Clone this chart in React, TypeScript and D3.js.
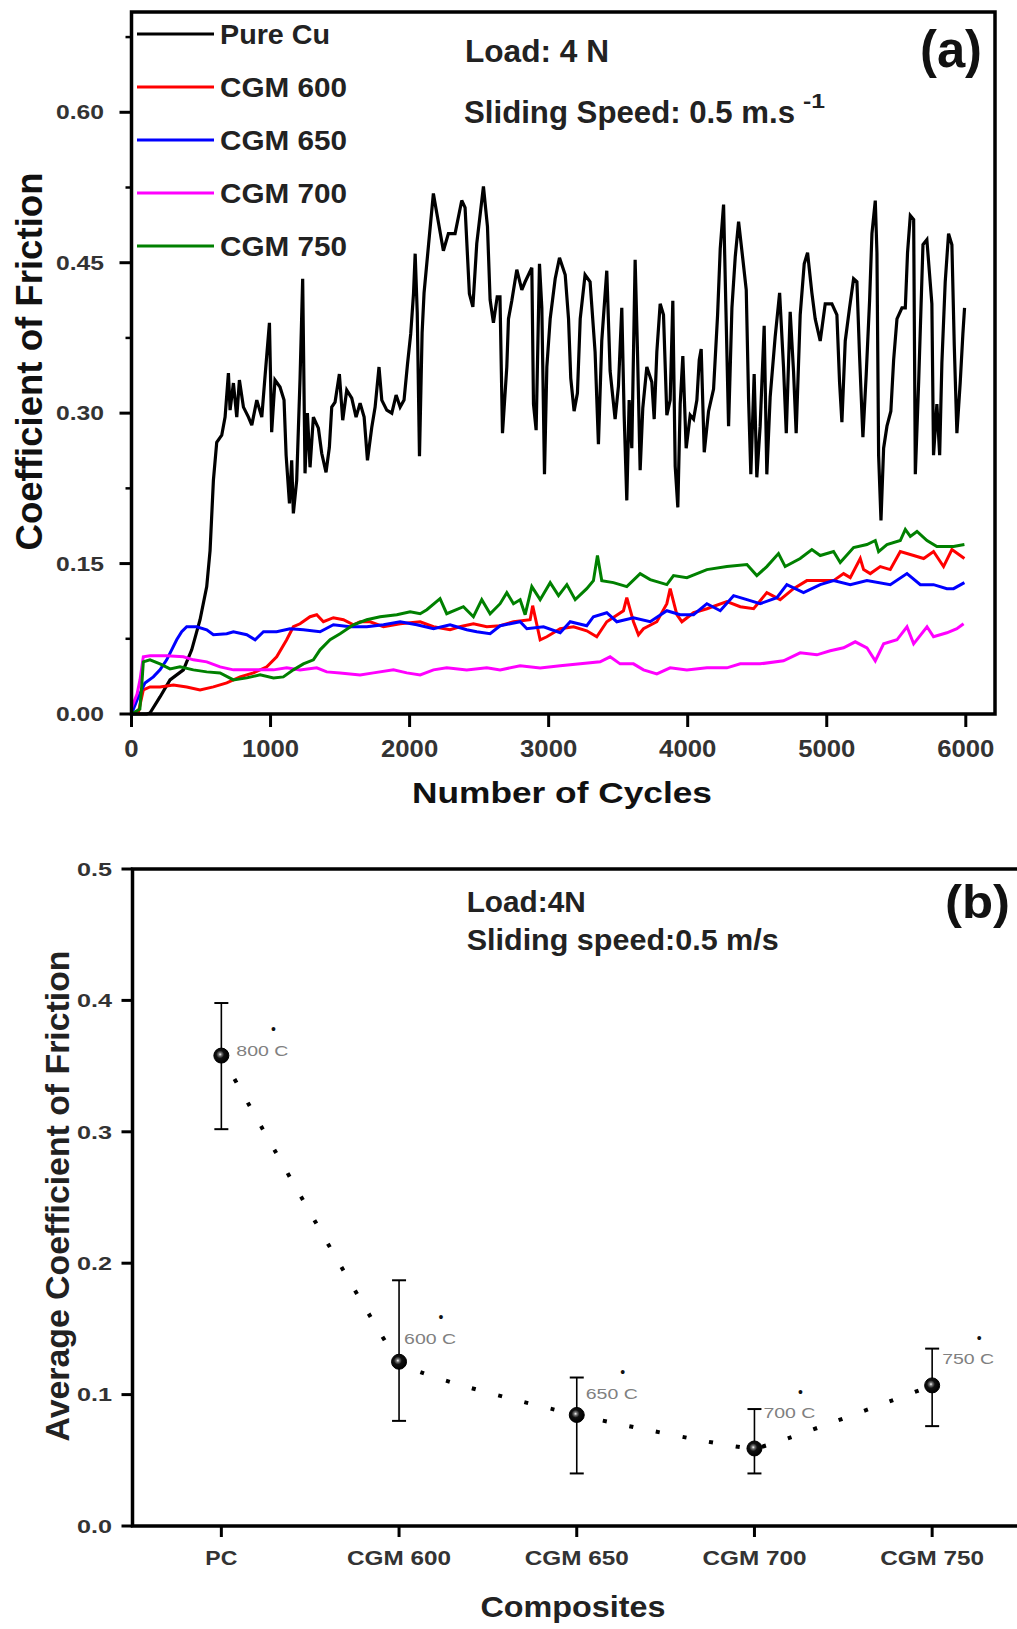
import React from 'react';
import * as d3 from 'd3';

const FONT = '"Liberation Sans", Arial, Helvetica, sans-serif';

// ---------- Panel (a): coefficient of friction vs number of cycles ----------
const pureCu: [number, number][] = [
  [0, 0], [109, 0], [133, 0.001], [205, 0.017], [277, 0.034], [373, 0.044], [433, 0.064], [493, 0.094],
  [541, 0.127], [565, 0.163], [589, 0.233], [613, 0.271], [649, 0.278], [673, 0.296], [697, 0.34], [709, 0.303],
  [733, 0.33], [757, 0.296], [776, 0.333], [805, 0.306], [841, 0.296], [865, 0.288], [901, 0.313], [937, 0.296],
  [961, 0.338], [992, 0.39], [1008, 0.281], [1032, 0.333], [1068, 0.326], [1097, 0.313], [1112, 0.258], [1136, 0.21],
  [1152, 0.253], [1164, 0.2], [1188, 0.233], [1212, 0.334], [1231, 0.434], [1248, 0.24], [1265, 0.3], [1284, 0.246],
  [1308, 0.296], [1344, 0.285], [1368, 0.26], [1399, 0.241], [1423, 0.266], [1440, 0.306], [1464, 0.311], [1495, 0.339],
  [1519, 0.293], [1548, 0.323], [1584, 0.315], [1615, 0.296], [1644, 0.31], [1673, 0.296], [1697, 0.253], [1728, 0.286],
  [1752, 0.306], [1780, 0.346], [1800, 0.313], [1836, 0.303], [1872, 0.3], [1903, 0.318], [1932, 0.306], [1960, 0.313],
  [1985, 0.349], [2008, 0.379], [2028, 0.419], [2040, 0.459], [2055, 0.4], [2071, 0.257], [2090, 0.38], [2104, 0.42],
  [2135, 0.466], [2171, 0.519], [2196, 0.499], [2243, 0.462], [2279, 0.479], [2327, 0.479], [2375, 0.512], [2399, 0.505],
  [2430, 0.419], [2455, 0.406], [2483, 0.469], [2531, 0.526], [2560, 0.486], [2579, 0.413], [2603, 0.39], [2630, 0.416],
  [2650, 0.416], [2668, 0.28], [2699, 0.346], [2711, 0.394], [2735, 0.412], [2771, 0.443], [2807, 0.423], [2831, 0.431],
  [2879, 0.445], [2891, 0.309], [2910, 0.283], [2934, 0.449], [2951, 0.405], [2970, 0.239], [2987, 0.346], [3011, 0.394],
  [3047, 0.434], [3078, 0.455], [3119, 0.438], [3143, 0.394], [3159, 0.335], [3183, 0.302], [3207, 0.32], [3227, 0.394],
  [3262, 0.438], [3298, 0.431], [3334, 0.361], [3358, 0.269], [3382, 0.372], [3418, 0.442], [3442, 0.342], [3478, 0.294],
  [3502, 0.327], [3526, 0.405], [3543, 0.298], [3562, 0.213], [3579, 0.313], [3598, 0.265], [3622, 0.453], [3639, 0.361],
  [3658, 0.243], [3677, 0.305], [3706, 0.346], [3742, 0.331], [3759, 0.294], [3778, 0.361], [3802, 0.409], [3826, 0.398],
  [3850, 0.298], [3874, 0.313], [3893, 0.412], [3910, 0.247], [3929, 0.206], [3946, 0.309], [3965, 0.357], [3989, 0.265],
  [4018, 0.298], [4042, 0.294], [4066, 0.313], [4083, 0.353], [4097, 0.364], [4119, 0.261], [4150, 0.302], [4186, 0.324],
  [4215, 0.398], [4234, 0.464], [4258, 0.508], [4274, 0.409], [4294, 0.287], [4318, 0.405], [4342, 0.456], [4366, 0.491],
  [4397, 0.453], [4421, 0.423], [4438, 0.313], [4454, 0.239], [4478, 0.339], [4497, 0.236], [4521, 0.287], [4550, 0.387],
  [4569, 0.239], [4593, 0.316], [4629, 0.376], [4661, 0.42], [4689, 0.346], [4709, 0.28], [4737, 0.401], [4761, 0.342],
  [4780, 0.28], [4809, 0.398], [4838, 0.449], [4862, 0.46], [4893, 0.42], [4917, 0.394], [4953, 0.372], [4989, 0.409],
  [5037, 0.409], [5073, 0.398], [5092, 0.331], [5109, 0.291], [5133, 0.372], [5164, 0.405], [5193, 0.434], [5217, 0.431],
  [5236, 0.357], [5260, 0.276], [5284, 0.339], [5308, 0.412], [5325, 0.479], [5349, 0.512], [5361, 0.46], [5373, 0.258],
  [5390, 0.193], [5409, 0.265], [5433, 0.287], [5461, 0.302], [5481, 0.353], [5505, 0.394], [5541, 0.405], [5565, 0.405],
  [5581, 0.46], [5601, 0.497], [5625, 0.493], [5637, 0.239], [5661, 0.331], [5692, 0.468], [5720, 0.473], [5756, 0.409],
  [5768, 0.258], [5792, 0.309], [5812, 0.258], [5828, 0.35], [5852, 0.431], [5876, 0.479], [5900, 0.468], [5917, 0.368],
  [5936, 0.28], [5960, 0.331], [5979, 0.379], [5991, 0.405],
];

const cgm600: [number, number][] = [
  [0, 0], [50, 0.002], [85, 0.024], [133, 0.027], [205, 0.027], [301, 0.029], [397, 0.027], [493, 0.024], [589, 0.027],
  [685, 0.031], [781, 0.037], [877, 0.041], [973, 0.047], [1044, 0.057], [1116, 0.074], [1164, 0.087], [1212, 0.09],
  [1284, 0.097], [1332, 0.099], [1380, 0.092], [1452, 0.096], [1524, 0.094], [1596, 0.089], [1644, 0.092], [1716, 0.092],
  [1812, 0.087], [1932, 0.09], [2076, 0.092], [2172, 0.087], [2291, 0.084], [2360, 0.087], [2459, 0.09], [2555, 0.087],
  [2651, 0.088], [2747, 0.092], [2867, 0.094], [2885, 0.108], [2939, 0.074], [2987, 0.077], [3083, 0.085], [3179, 0.087],
  [3274, 0.083], [3346, 0.077], [3418, 0.092], [3538, 0.103], [3562, 0.116], [3610, 0.092], [3646, 0.079], [3682, 0.085],
  [3778, 0.092], [3850, 0.11], [3874, 0.125], [3922, 0.099], [3958, 0.092], [4042, 0.101], [4138, 0.105], [4282, 0.112],
  [4378, 0.107], [4474, 0.105], [4569, 0.121], [4665, 0.114], [4761, 0.125], [4857, 0.133], [4953, 0.133], [5049, 0.133],
  [5121, 0.14], [5169, 0.136], [5241, 0.155], [5265, 0.144], [5313, 0.14], [5385, 0.147], [5457, 0.144], [5529, 0.162],
  [5625, 0.158], [5697, 0.155], [5768, 0.162], [5840, 0.147], [5900, 0.164], [5990, 0.155],
];

const cgm650: [number, number][] = [
  [0, 0], [40, 0.014], [97, 0.031], [157, 0.037], [205, 0.044], [253, 0.054], [289, 0.064], [325, 0.074], [361, 0.082],
  [397, 0.087], [469, 0.087], [541, 0.084], [589, 0.079], [685, 0.08], [733, 0.082], [829, 0.079], [889, 0.074],
  [949, 0.082], [1044, 0.082], [1140, 0.085], [1236, 0.084], [1356, 0.082], [1452, 0.089], [1572, 0.087], [1692, 0.087],
  [1812, 0.089], [1932, 0.092], [2052, 0.089], [2172, 0.085], [2291, 0.089], [2411, 0.084], [2483, 0.082], [2579, 0.08],
  [2651, 0.088], [2795, 0.092], [2843, 0.085], [2963, 0.087], [3083, 0.081], [3155, 0.092], [3274, 0.088], [3322, 0.097],
  [3418, 0.101], [3490, 0.092], [3610, 0.096], [3730, 0.092], [3850, 0.103], [3946, 0.099], [4042, 0.099], [4138, 0.11],
  [4234, 0.103], [4330, 0.118], [4426, 0.114], [4521, 0.11], [4641, 0.116], [4713, 0.129], [4833, 0.121], [4953, 0.129],
  [5049, 0.133], [5169, 0.129], [5289, 0.133], [5457, 0.129], [5577, 0.14], [5673, 0.129], [5768, 0.129], [5864, 0.125],
  [5912, 0.125], [5990, 0.131],
];

const cgm700: [number, number][] = [
  [0, 0.006], [40, 0.02], [61, 0.034], [85, 0.057], [133, 0.058], [253, 0.058], [373, 0.057], [445, 0.054], [541, 0.052],
  [637, 0.047], [733, 0.044], [877, 0.044], [1021, 0.044], [1116, 0.046], [1212, 0.044], [1332, 0.046], [1404, 0.042],
  [1500, 0.041], [1644, 0.039], [1740, 0.041], [1884, 0.044], [1980, 0.041], [2076, 0.039], [2172, 0.044], [2267, 0.046],
  [2411, 0.044], [2555, 0.046], [2651, 0.044], [2795, 0.048], [2939, 0.046], [3083, 0.048], [3227, 0.05], [3370, 0.052],
  [3442, 0.057], [3514, 0.05], [3610, 0.05], [3682, 0.044], [3778, 0.04], [3874, 0.046], [3994, 0.044], [4138, 0.046],
  [4282, 0.046], [4378, 0.05], [4521, 0.05], [4689, 0.053], [4809, 0.061], [4929, 0.059], [5025, 0.063], [5121, 0.066],
  [5205, 0.072], [5289, 0.066], [5349, 0.053], [5409, 0.07], [5505, 0.074], [5577, 0.087], [5625, 0.07], [5721, 0.087],
  [5768, 0.077], [5864, 0.081], [5936, 0.085], [5984, 0.09],
];

const cgm750: [number, number][] = [
  [0, 0], [60, 0.005], [73, 0.027], [85, 0.052], [133, 0.054], [205, 0.05], [277, 0.045], [349, 0.047], [445, 0.044],
  [541, 0.042], [637, 0.041], [733, 0.034], [829, 0.036], [925, 0.039], [1021, 0.036], [1092, 0.037], [1164, 0.044],
  [1236, 0.05], [1308, 0.054], [1356, 0.064], [1428, 0.074], [1500, 0.08], [1596, 0.089], [1692, 0.094], [1788, 0.097],
  [1908, 0.099], [2004, 0.102], [2076, 0.1], [2124, 0.104], [2219, 0.115], [2267, 0.1], [2387, 0.107], [2459, 0.097],
  [2519, 0.114], [2579, 0.1], [2651, 0.11], [2699, 0.121], [2747, 0.11], [2795, 0.114], [2831, 0.099], [2879, 0.127],
  [2939, 0.114], [3011, 0.131], [3071, 0.118], [3131, 0.129], [3191, 0.114], [3274, 0.125], [3322, 0.133], [3351, 0.158],
  [3382, 0.133], [3466, 0.131], [3562, 0.127], [3658, 0.14], [3730, 0.134], [3850, 0.129], [3898, 0.138], [3994, 0.136],
  [4138, 0.144], [4282, 0.147], [4426, 0.149], [4497, 0.138], [4569, 0.147], [4653, 0.16], [4701, 0.147], [4809, 0.155],
  [4893, 0.164], [4953, 0.158], [5049, 0.162], [5097, 0.151], [5193, 0.166], [5289, 0.169], [5349, 0.173], [5373, 0.162],
  [5433, 0.169], [5529, 0.173], [5565, 0.184], [5601, 0.177], [5649, 0.182], [5721, 0.173], [5792, 0.167], [5912, 0.167],
  [5990, 0.169],
];

const seriesNames = ['Pure Cu', 'CGM 600', 'CGM 650', 'CGM 700', 'CGM 750'];
const seriesColors = ['#000000', '#ff0000', '#0000ff', '#ff00ff', '#008000'];
const seriesData = [pureCu, cgm600, cgm650, cgm700, cgm750];

const xTicksA = [0, 1000, 2000, 3000, 4000, 5000, 6000];
const yTicksA = [0, 0.15, 0.3, 0.45, 0.6];
const yMinorA = [0.075, 0.225, 0.375, 0.525, 0.675];

// ---------- Panel (b): average COF per composite ----------
const composites = ['PC', 'CGM 600', 'CGM 650', 'CGM 700', 'CGM 750'];
const avgCof = [0.358, 0.125, 0.0845, 0.059, 0.107];
const errHigh = [0.398, 0.187, 0.113, 0.089, 0.135];
const errLow = [0.302, 0.08, 0.04, 0.04, 0.076];
const tempLabels = ['800 C', '600 C', '650 C', '700 C', '750 C'];
const yTicksB = [0, 0.1, 0.2, 0.3, 0.4, 0.5];

// annotation placement (pixels relative to each point)
const labelOffsets: [number, number][] = [[15, -5], [5, -23], [9, -21], [9, -35], [10, -26]];

export default function App() {
  const W = 1017;
  const H = 1629;

  // panel a
  const A = { left: 131.5, right: 995, top: 12, bottom: 714 };
  const xA = d3.scaleLinear().domain([0, 6210]).range([A.left, A.right]);
  const yA = d3.scaleLinear().domain([0, 0.7]).range([A.bottom, A.top]);
  const lineA = d3.line<[number, number]>().x((d) => xA(d[0])).y((d) => yA(d[1]));
  const fmtA = d3.format('.2f');

  // panel b
  const B = { left: 132.5, right: 1021, top: 869, bottom: 1526 };
  const xB = d3.scalePoint<string>().domain(composites).range([B.left, B.right]).padding(0.5);
  const yB = d3.scaleLinear().domain([0, 0.5]).range([B.bottom, B.top]);
  const fmtB = d3.format('.1f');
  const curveB = d3
    .line<number>()
    .x((_, i) => xB(composites[i]) as number)
    .y((d) => yB(d))
    .curve(d3.curveCardinal.tension(0.75));

  const tickColor = '#000';

  return (
    <svg
      width={W}
      height={H}
      viewBox={`0 0 ${W} ${H}`}
      style={{ position: 'absolute', left: 0, top: 0, background: '#fff' }}
      fontFamily={FONT}
    >
      <defs>
        <radialGradient id="ball" cx="42%" cy="42%" r="58%">
          <stop offset="0%" stopColor="#ffffff" />
          <stop offset="18%" stopColor="#777" />
          <stop offset="45%" stopColor="#111" />
          <stop offset="100%" stopColor="#000" />
        </radialGradient>
      </defs>
      <rect x={0} y={0} width={W} height={H} fill="#fff" />

      {/* ================= Panel (a) ================= */}
      {seriesData.map((d, i) => (
        <path
          key={seriesNames[i]}
          d={lineA(d) || ''}
          fill="none"
          stroke={seriesColors[i]}
          strokeWidth={i === 0 ? 3.2 : 3}
          strokeLinejoin="miter"
          strokeMiterlimit={3}
        />
      ))}

      <rect
        x={A.left}
        y={A.top}
        width={A.right - A.left}
        height={A.bottom - A.top}
        fill="none"
        stroke="#000"
        strokeWidth={3.5}
      />

      {yTicksA.map((v) => (
        <g key={'ya' + v}>
          <line x1={A.left - 12} x2={A.left} y1={yA(v)} y2={yA(v)} stroke={tickColor} strokeWidth={3} />
          <text
            x={104}
            y={yA(v) + 7}
            textAnchor="end"
            fontSize={19.5}
            fontWeight="bold"
            fill="#333"
            textLength={48}
            lengthAdjust="spacingAndGlyphs"
          >
            {fmtA(v)}
          </text>
        </g>
      ))}
      {yMinorA.map((v) => (
        <line key={'yam' + v} x1={A.left - 6} x2={A.left} y1={yA(v)} y2={yA(v)} stroke={tickColor} strokeWidth={2.5} />
      ))}
      {xTicksA.map((v) => (
        <g key={'xa' + v}>
          <line x1={xA(v)} x2={xA(v)} y1={A.bottom} y2={A.bottom + 13} stroke={tickColor} strokeWidth={3} />
          <text
            x={xA(v)}
            y={757}
            textAnchor="middle"
            fontSize={23}
            fontWeight="bold"
            fill="#333"
            textLength={String(v).length * 14.3}
            lengthAdjust="spacingAndGlyphs"
          >
            {String(v)}
          </text>
        </g>
      ))}

      <text
        x={562}
        y={803}
        textAnchor="middle"
        fontSize={30}
        fontWeight="bold"
        fill="#111"
        textLength={300}
        lengthAdjust="spacingAndGlyphs"
      >
        Number of Cycles
      </text>
      <text
        transform="translate(41.5,361.5) rotate(-90)"
        textAnchor="middle"
        fontSize={37}
        fontWeight="bold"
        fill="#111"
        textLength={378}
        lengthAdjust="spacingAndGlyphs"
      >
        Coefficient of Friction
      </text>

      {/* legend */}
      {seriesNames.map((name, i) => {
        const ly = 34 + i * 53;
        return (
          <g key={'lg' + name}>
            <line x1={137} x2={214} y1={ly} y2={ly} stroke={seriesColors[i]} strokeWidth={3} />
            <text
              x={220}
              y={ly + 10}
              fontSize={28}
              fontWeight="bold"
              fill="#222"
              textLength={i === 0 ? 110 : 127}
              lengthAdjust="spacingAndGlyphs"
            >
              {name}
            </text>
          </g>
        );
      })}

      <text x={465} y={61.7} fontSize={31} fontWeight="bold" fill="#222" textLength={144} lengthAdjust="spacingAndGlyphs">
        Load: 4 N
      </text>
      <text x={464} y={123.3} fontSize={31} fontWeight="bold" fill="#222" textLength={331} lengthAdjust="spacingAndGlyphs">
        Sliding Speed: 0.5 m.s
      </text>
      <text x={803} y={108} fontSize={20} fontWeight="bold" fill="#222" textLength={22} lengthAdjust="spacingAndGlyphs">
        -1
      </text>
      <text x={920} y={67} fontSize={52} fontWeight="bold" fill="#111" textLength={62} lengthAdjust="spacingAndGlyphs">
        (a)
      </text>

      {/* ================= Panel (b) ================= */}
      <path
        d={curveB(avgCof) || ''}
        fill="none"
        stroke="#000"
        strokeWidth={4}
        strokeDasharray="4 23"
      />

      <rect
        x={B.left}
        y={B.top}
        width={B.right + 20 - B.left}
        height={B.bottom - B.top}
        fill="none"
        stroke="#000"
        strokeWidth={3.5}
      />

      {yTicksB.map((v) => (
        <g key={'yb' + v}>
          <line x1={B.left - 11} x2={B.left} y1={yB(v)} y2={yB(v)} stroke={tickColor} strokeWidth={3} />
          <text
            x={112}
            y={yB(v) + 6.7}
            textAnchor="end"
            fontSize={18.5}
            fontWeight="bold"
            fill="#333"
            textLength={35}
            lengthAdjust="spacingAndGlyphs"
          >
            {fmtB(v)}
          </text>
        </g>
      ))}
      {composites.map((c) => (
        <g key={'xb' + c}>
          <line
            x1={xB(c) as number}
            x2={xB(c) as number}
            y1={B.bottom}
            y2={B.bottom + 11}
            stroke={tickColor}
            strokeWidth={3}
          />
          <text
            x={xB(c) as number}
            y={1565}
            textAnchor="middle"
            fontSize={21}
            fontWeight="bold"
            fill="#333"
            textLength={c.length <= 2 ? 32 : 104}
            lengthAdjust="spacingAndGlyphs"
          >
            {c}
          </text>
        </g>
      ))}

      <text
        x={573}
        y={1617}
        textAnchor="middle"
        fontSize={30}
        fontWeight="bold"
        fill="#222"
        textLength={185}
        lengthAdjust="spacingAndGlyphs"
      >
        Composites
      </text>
      <text
        transform="translate(68.5,1196) rotate(-90)"
        textAnchor="middle"
        fontSize={34}
        fontWeight="bold"
        fill="#222"
        textLength={491}
        lengthAdjust="spacingAndGlyphs"
      >
        Average Coefficient of Friction
      </text>

      <text x={466.7} y={911.7} fontSize={30} fontWeight="bold" fill="#222" textLength={119} lengthAdjust="spacingAndGlyphs">
        Load:4N
      </text>
      <text x={466.7} y={950} fontSize={30} fontWeight="bold" fill="#222" textLength={312} lengthAdjust="spacingAndGlyphs">
        Sliding speed:0.5 m/s
      </text>
      <text x={945} y={918} fontSize={46} fontWeight="bold" fill="#111" textLength={65} lengthAdjust="spacingAndGlyphs">
        (b)
      </text>

      {composites.map((c, i) => {
        const cx = xB(c) as number;
        const cy = yB(avgCof[i]);
        const lx = cx + labelOffsets[i][0];
        const lyc = cy + labelOffsets[i][1];
        return (
          <g key={'pt' + c}>
            <line x1={cx} x2={cx} y1={yB(errHigh[i])} y2={yB(errLow[i])} stroke="#000" strokeWidth={1.6} />
            <line x1={cx - 7} x2={cx + 7} y1={yB(errHigh[i])} y2={yB(errHigh[i])} stroke="#000" strokeWidth={2} />
            <line x1={cx - 7} x2={cx + 7} y1={yB(errLow[i])} y2={yB(errLow[i])} stroke="#000" strokeWidth={2} />
            <circle cx={cx} cy={cy} r={7.5} fill="url(#ball)" stroke="#000" strokeWidth={1} />
            <text
              x={lx}
              y={lyc + 5}
              fontSize={14}
              fill="#808080"
              textLength={52}
              lengthAdjust="spacingAndGlyphs"
            >
              {tempLabels[i]}
            </text>
            <text x={lx + 37} y={lyc - 21 + 4.5} fontSize={14} fill="#111" textAnchor="middle">
              •
            </text>
          </g>
        );
      })}
    </svg>
  );
}
